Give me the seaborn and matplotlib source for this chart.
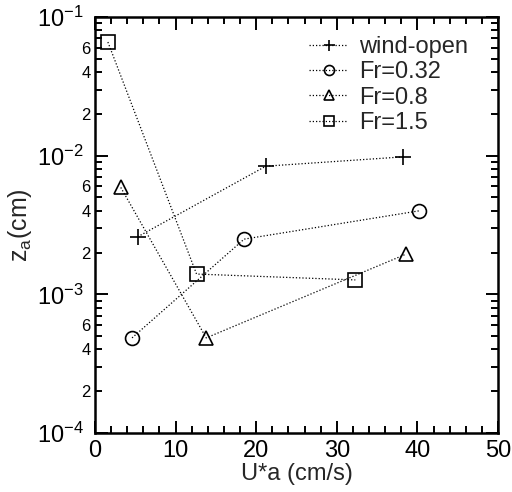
import numpy as np
import pandas as pd
import matplotlib
matplotlib.use("Agg")
import matplotlib.pyplot as plt
import matplotlib.ticker as mticker
import seaborn as sns

# Roughness height z_a versus friction velocity U*a
wind_x = [5.3, 21.2, 38.2]
wind_y = [2.6e-3, 8.4e-3, 9.8e-3]
fr032_x = [4.6, 18.5, 40.2]
fr032_y = [4.85e-4, 2.5e-3, 4.0e-3]
fr08_x = [3.2, 13.8, 38.6]
fr08_y = [5.9e-3, 4.85e-4, 1.95e-3]
fr15_x = [1.6, 12.6, 32.3]
fr15_y = [6.6e-2, 1.4e-3, 1.27e-3]

series_names = ["wind-open", "Fr=0.32", "Fr=0.8", "Fr=1.5"]
series_x = [wind_x, fr032_x, fr08_x, fr15_x]
series_y = [wind_y, fr032_y, fr08_y, fr15_y]
series_markers = ["+", "o", "^", "s"]

x_ticks = [0, 10, 20, 30, 40, 50]

sns.set_theme(style="ticks")
plt.rcParams["font.family"] = ["Liberation Sans", "DejaVu Sans"]
plt.rcParams["mathtext.fontset"] = "custom"
plt.rcParams["mathtext.rm"] = "Liberation Sans"
plt.rcParams["mathtext.it"] = "Liberation Sans"

fig = plt.figure(figsize=(5.12, 4.92), dpi=100)
ax = fig.add_axes([0.1855, 0.12, 0.7872, 0.8454])

for name, xs, ys, mk in zip(series_names, series_x, series_y, series_markers):
    df = pd.DataFrame({"x": xs, "y": ys})
    msize = 11 if mk == "+" else 10
    sns.lineplot(data=df, x="x", y="y", ax=ax, sort=False, label=name,
                 color="black", linewidth=0.9, linestyle=(0, (1, 1.6)),
                 marker=mk, markersize=msize, markerfacecolor="none",
                 markeredgecolor="black", markeredgewidth=1.2)

ax.set_yscale("log")
ax.set_xlim(0, 50)
ax.set_ylim(1e-4, 1e-1)

ax.set_xticks(x_ticks)
ax.xaxis.set_minor_locator(mticker.MultipleLocator(2))
ax.yaxis.set_major_locator(mticker.LogLocator(base=10, numticks=10))
ax.yaxis.set_minor_locator(mticker.LogLocator(base=10, subs=np.arange(2, 10), numticks=20))


def major_fmt(v, pos):
    e = int(round(np.log10(v)))
    return r"$\mathregular{10^{%d}}$" % e


def minor_fmt(v, pos):
    m = v / 10 ** np.floor(np.log10(v) + 1e-9)
    m = int(round(m))
    return str(m) if m in (2, 4, 6) else ""


ax.yaxis.set_major_formatter(mticker.FuncFormatter(major_fmt))
ax.yaxis.set_minor_formatter(mticker.FuncFormatter(minor_fmt))

ax.tick_params(which="both", direction="in", top=True, right=True,
               colors="black", width=1.4)
ax.tick_params(which="major", length=9)
ax.tick_params(which="minor", length=5)
ax.tick_params(axis="x", which="major", labelsize=17, pad=5)
ax.tick_params(axis="y", which="major", labelsize=17, pad=8)
ax.tick_params(axis="y", which="minor", labelsize=12, pad=3)

for s in ax.spines.values():
    s.set_linewidth(1.8)
    s.set_color("black")

ax.set_xlabel("U*a (cm/s)", fontsize=17, labelpad=1)
ax.set_ylabel(r"z$_\mathregular{a}$(cm)", fontsize=18, labelpad=2)

leg = ax.legend(loc="upper right", frameon=False, fontsize=17,
                handlelength=1.65, handletextpad=0.45, labelspacing=0.14,
                markerscale=0.72, borderaxespad=0.0,
                bbox_to_anchor=(0.949, 0.977))

fig.savefig("out.png", dpi=100, facecolor="white")
